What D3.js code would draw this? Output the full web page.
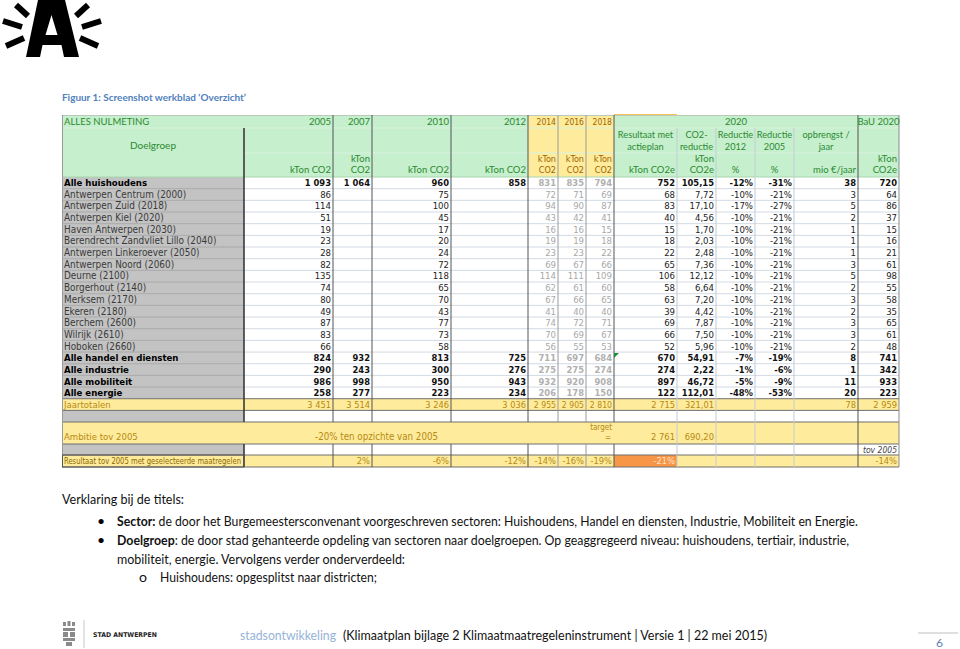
<!DOCTYPE html>
<html><head><meta charset="utf-8">
<script src="https://cdn.jsdelivr.net/npm/d3@7"></script>
<style>body{margin:0;background:#fff}svg{display:block}</style>
</head><body><svg id="c" width="960" height="649"></svg>
<script>
// ---------- DATA ----------
const rowLabels = ["Alle huishoudens","Antwerpen Centrum (2000)","Antwerpen Zuid (2018)","Antwerpen Kiel (2020)","Haven Antwerpen (2030)","Berendrecht Zandvliet Lillo (2040)","Antwerpen Linkeroever (2050)","Antwerpen Noord (2060)","Deurne (2100)","Borgerhout (2140)","Merksem (2170)","Ekeren (2180)","Berchem (2600)","Wilrijk (2610)","Hoboken (2660)","Alle handel en diensten","Alle industrie","Alle mobiliteit","Alle energie","Jaartotalen"];
const rowTypes = ["sum","d","d","d","d","d","d","d","d","d","d","d","d","d","d","sum","sum","sum","sum","total"];
const v2005 = [1093,86,114,51,19,23,28,82,135,74,80,49,87,83,66,824,290,986,258,3451];
const v2007 = [1064,null,null,null,null,null,null,null,null,null,null,null,null,null,null,932,243,998,277,3514];
const v2010 = [960,75,100,45,17,20,24,72,118,65,70,43,77,73,58,813,300,950,223,3246];
const v2012 = [858,null,null,null,null,null,null,null,null,null,null,null,null,null,null,725,276,943,234,3036];
const v2014 = [831,72,94,43,16,19,23,69,114,62,67,41,74,70,56,711,275,932,206,2955];
const v2016 = [835,71,90,42,16,19,23,67,111,61,66,40,72,69,55,697,275,920,178,2905];
const v2018 = [794,69,87,41,15,18,22,66,109,60,65,40,71,67,53,684,274,908,150,2810];
const res2020 = [752,68,83,40,15,18,22,65,106,58,63,39,69,66,52,670,274,897,122,2715];
const co2Reductie = [105.15,7.72,17.10,4.56,1.70,2.03,2.48,7.36,12.12,6.64,7.20,4.42,7.87,7.50,5.96,54.91,2.22,46.72,112.01,321.01];
const reductie2012 = [-12,-10,-17,-10,-10,-10,-10,-10,-10,-10,-10,-10,-10,-10,-10,-7,-1,-5,-48,null];
const reductie2005 = [-31,-21,-27,-21,-21,-21,-21,-21,-21,-21,-21,-21,-21,-21,-21,-19,-6,-9,-53,null];
const opbrengst = [38,3,5,2,1,1,1,3,5,2,3,2,3,3,2,8,1,11,20,78];
const bau2020 = [720,64,86,37,15,16,21,61,98,55,58,35,65,61,48,741,342,933,223,2959];
// Ambitie & resultaat rows
const ambitieText = "-20% ten opzichte van 2005";
const ambitieRes = 2761, ambitieCo2 = 690.20;
const resultaatTov2005 = [null,2,-6,-12,-14,-16,-19,-21]; // 2005..2018, Resultaat 2020
const resultaatBau = -14;
// Header labels
const yearHeaders = ["2005","2007","2010","2012","2014","2016","2018"];
const head2020 = [["Resultaat met","actieplan"],["CO2-","reductie"],["Reductie","2012"],["Reductie","2005"],["opbrengst /","jaar"]];
const unitHeaders = [["kTon CO2"],["kTon","CO2"],["kTon CO2"],["kTon CO2"],["kTon","CO2"],["kTon","CO2"],["kTon","CO2"],["kTon CO2e"],["kTon","CO2e"],["%"],["%"],["mio €/jaar"],["kTon","CO2e"]];

// ---------- SETUP ----------
const svg = d3.select("#c");
svg.append("rect").attr("width",960).attr("height",649).attr("fill","#fff");
const loc = d3.formatLocale({decimal:",",thousands:" ",grouping:[3],currency:["","€"],minus:"-"});
const fInt = loc.format(",d"), fDec = loc.format(",.2f"), fPct = v => loc.format("d")(v)+"%";

const colKeys = ["label","y2005","y2007","y2010","y2012","y2014","y2016","y2018","res","co2","r12","r05","opb","bau"];
const X0 = d3.scaleOrdinal().domain(colKeys).range([62,244,333,372,451,528,558,586,614,677,716,755,794,858]);
const X1 = d3.scaleOrdinal().domain(colKeys).range([244,333,372,451,528,558,586,614,677,716,755,794,858,899]);
const zone = k => k==="label"?"label":(["y2014","y2016","y2018"].includes(k)?"proj":"main");
const colData = {y2005:v2005,y2007:v2007,y2010:v2010,y2012:v2012,y2014:v2014,y2016:v2016,y2018:v2018,res:res2020,co2:co2Reductie,r12:reductie2012,r05:reductie2005,opb:opbrengst,bau:bau2020};
const colFmt = {co2:fDec,r12:fPct,r05:fPct};
const valueKeys = colKeys.slice(1);

const Y = d3.scaleBand().domain(d3.range(rowLabels.length)).range([177,410.4]);
const extraRows = {empty1:[410.4,422],ambitie:[422,444],empty2:[444,455],result:[455,467]};

const GREEN="#c6efce", GREENTXT="#2b8a2f", YEL="#ffeb9c", YELTXT="#9c6500", GRAY="#c3c3c3", GOLD="#b58a12";
const fHead = "Lato, 'Open Sans', sans-serif";
const fNarrow = "'Liberation Sans Narrow','Arial Narrow','DejaVu Sans Condensed',sans-serif";
const fBold = "'DejaVu Sans', Verdana, sans-serif";

const g = svg.append("g");
// ---------- HEADER FILLS ----------
colKeys.forEach(k=>{
  g.append("rect").attr("x",X0(k)).attr("y",115).attr("width",X1(k)-X0(k)).attr("height",62)
   .attr("fill", zone(k)==="proj"?YEL:GREEN);
});
g.append("rect").attr("x",X0("res")).attr("y",114).attr("width",X1("res")-X0("res")).attr("height",2).attr("fill","#f6c15a");

// ---------- BODY FILLS ----------
rowLabels.forEach((lab,i)=>{
  const y0=Y(i), h=Y.bandwidth();
  colKeys.forEach(k=>{
    const fill = rowTypes[i]==="total"?YEL:(k==="label"?GRAY:"#fff");
    g.append("rect").attr("x",X0(k)).attr("y",y0).attr("width",X1(k)-X0(k)).attr("height",h).attr("fill",fill);
  });
});
Object.entries(extraRows).forEach(([name,[a,b]])=>{
  colKeys.forEach(k=>{
    let fill;
    if(name==="ambitie"||name==="result") fill=YEL; else fill = k==="label"?GRAY:"#fff";
    if(name==="result"&&k==="res") fill="#f79646";
    g.append("rect").attr("x",X0(k)).attr("y",a).attr("width",X1(k)-X0(k)).attr("height",b-a).attr("fill",fill);
  });
});

// ---------- GRID LINES ----------
const hl = (x0,x1,y,c,w=1)=>g.append("line").attr("x1",x0).attr("x2",x1).attr("y1",y).attr("y2",y).attr("stroke",c).attr("stroke-width",w);
const vl = (x,y0,y1,c,w=1)=>g.append("line").attr("x1",x).attr("x2",x).attr("y1",y0).attr("y2",y1).attr("stroke",c).attr("stroke-width",w);
hl(62,899,115.5,"#b9c9bb");
hl(62,899,128,"#d9f2dd");
hl(244,899,153,"#d9f2dd");
hl(62,899,177,"#a8d5ae");
d3.range(1,rowLabels.length).forEach(i=>{
  if(i===19) return;
  hl(62,244,Y(i),"#a9a9a9");
  hl(244,899,Y(i),"#d3dae3");
});
[Y(19),410.4,422,444,455,467].forEach(y=>hl(62,899,y,"#6f6f6f"));
// vertical lines (merged Ambitie cell has no inner lines between 2005 and 2018)
const [amA,amB]=extraRows.ambitie;
const vseg=(x,y0,c,w=1,merged=false)=>{
  if(merged){ vl(x,y0,amA,c,w); vl(x,amB,467,c,w); } else vl(x,y0,467,c,w);
};
const darkV=["y2005","y2007","y2010","y2012","y2014","res","bau"];
colKeys.forEach(k=>{
  const x=X0(k);
  const merged = x>=244 && x<=614;
  if(k==="label") { vl(x+0.5,115,467,"#9a9a9a"); return; }
  if(k==="y2005") { vseg(x,128,"#3a3a3a",1.6,true); return; }
  const y0 = ["co2","r12","r05","opb"].includes(k)?128:115;
  if(darkV.includes(k)) vseg(x,y0,"#555",1,merged);
  else if(zone(k)==="proj") vseg(x,y0,"#9a9a9a",1,merged);
  else vseg(x,y0,"#c3cbd6",1,merged);
});
vl(899,115,467,"#8a8a8a");
g.append("path").attr("d",`M${X0("res")},${Y(15)+1}l5,0l-5,5z`).attr("fill","#1e8a3a");

// ---------- HEADER TEXT ----------
const txt = (x,y,s,o={})=>{
  const t=g.append("text").attr("x",x).attr("y",y).text(s)
  .attr("text-anchor",o.a||"end").attr("font-family",o.f||fHead).attr("font-size",o.s||9.5)
  .attr("fill",o.c||"#000").attr("font-weight",o.w||"normal").attr("font-style",o.i||"normal");
  if(o.len) t.attr("textLength",o.len).attr("lengthAdjust","spacingAndGlyphs");
  return t;
};
txt(64,125,"ALLES NULMETING",{a:"start",c:GREENTXT,s:9.5});
txt(153,149,"Doelgroep",{a:"middle",c:GREENTXT,s:10});
yearHeaders.forEach((yr,i)=>{
  const k=valueKeys[i], p=zone(k)==="proj";
  txt(X1(k)-2,125,yr,{c:p?YELTXT:GREENTXT,s:p?8.5:9.5,f:p?fNarrow:fHead});
});
txt((X0("res")+X1("opb"))/2,125,"2020",{a:"middle",c:GREENTXT});
txt((X0("bau")+X1("bau"))/2,125,"BaU 2020",{a:"middle",c:GREENTXT});
head2020.forEach((lines,i)=>{
  const k=["res","co2","r12","r05","opb"][i], cx=(X0(k)+X1(k))/2;
  lines.forEach((l,j)=>txt(cx,138+j*12,l,{a:"middle",c:GREENTXT,s:9.2}));
});
unitHeaders.forEach((lines,i)=>{
  const k=valueKeys[i], p=zone(k)==="proj";
  const pct = lines[0]==="%";
  lines.forEach((l,j)=>{
    const y = lines.length===1?173:161.5+j*11.5;
    const x = pct?(X0(k)+X1(k))/2:X1(k)-2;
    txt(x,y,l,{a:pct?"middle":"end",c:p?YELTXT:GREENTXT,s:p?9:9.5,f:p?fNarrow:fHead});
  });
});

// ---------- BODY TEXT ----------
rowLabels.forEach((lab,i)=>{
  const t=rowTypes[i], yb=Y(i)+Y.bandwidth()/2+3.3;
  if(t==="sum") txt(64,yb,lab,{a:"start",f:fBold,w:"bold",s:8.6});
  else if(t==="total") txt(64,yb,lab,{a:"start",f:fNarrow,s:9.5,c:GOLD});
  else txt(64,yb,lab,{a:"start",f:fNarrow,s:9.9,c:"#3a3a3a"});
  valueKeys.forEach(k=>{
    const v=colData[k][i]; if(v==null) return;
    const s=(colFmt[k]||fInt)(v);
    const p=zone(k)==="proj";
    let o={f:fNarrow,s:9.5,c:p?"#a8a8a8":"#222"};
    if(t==="sum") o={f:fBold,w:"bold",s:8.4,c:p?"#b0b0b0":"#111"};
    if(t==="total") o={f:fNarrow,s:p?8.6:9.2,c:GOLD};
    txt(X1(k)-2,yb,s,o);
  });
});
txt(64,amB-4,"Ambitie tov 2005",{a:"start",f:fNarrow,s:9.5,c:GOLD});
txt(315,amB-4,ambitieText,{a:"start",f:fNarrow,s:9.7,c:GOLD});
txt(X1("y2018")-2,amA+8,"target",{f:fNarrow,s:8,c:GOLD});
txt(X1("y2018")-3,amB-4,"=",{f:fNarrow,s:8,c:GOLD});
txt(X1("res")-2,amB-4,fInt(ambitieRes),{f:fNarrow,s:9.3,c:GOLD});
txt(X1("co2")-2,amB-4,fDec(ambitieCo2),{f:fNarrow,s:9.3,c:GOLD});
txt(X1("bau")-2,extraRows.empty2[1]-2.5,"tov 2005",{f:fNarrow,s:8.5,c:"#444",i:"italic"});
const [ra,rb]=extraRows.result;
g.append("rect").attr("x",62.5).attr("y",ra).attr("width",181).attr("height",rb-ra).attr("fill","none").attr("stroke","#555");
txt(64,rb-3,"Resultaat tov 2005 met geselecteerde maatregelen",{a:"start",f:fNarrow,s:9,c:"#8a6a00",len:177});
resultaatTov2005.forEach((v,i)=>{
  if(v==null) return;
  const k=valueKeys[i];
  txt(X1(k)-2,rb-3,fPct(v),{f:fNarrow,s:9.3,c:k==="res"?"#fde3c8":GOLD});
});
txt(X1("bau")-2,rb-3,fPct(resultaatBau),{f:fNarrow,s:9.3,c:GOLD});

// ---------- PAGE DECOR ----------
const logo=svg.append("g");
logo.append("path").attr("d","M26,57 L38,0 L65,0 L79,57 L64,57 L61.5,45 L42.5,45 L40,57 Z M45.5,35 L51.5,15 L57.5,35 Z")
  .attr("fill","#000").attr("fill-rule","evenodd");
[[16,5,28,16],[3,21,22,27],[6,46,24,38],[88,5,76,16],[101,21,82,27],[98,46,80,38]].forEach(d=>
  logo.append("line").attr("x1",d[0]).attr("y1",d[1]).attr("x2",d[2]).attr("y2",d[3]).attr("stroke","#000").attr("stroke-width",6));
svg.append("text").attr("x",62).attr("y",101).text("Figuur 1: Screenshot werkblad ‘Overzicht’")
  .attr("font-family",fHead).attr("font-size",10).attr("font-weight","bold").attr("fill","#4f81bd")
  .attr("textLength",184).attr("lengthAdjust","spacingAndGlyphs");
const body=(x,y,parts,len)=>{
  const t=svg.append("text").attr("x",x).attr("y",y).attr("font-family",fHead).attr("font-size",13).attr("fill","#111")
    .attr("textLength",len).attr("lengthAdjust","spacingAndGlyphs");
  parts.forEach(p=>t.append("tspan").text(p[0]).attr("font-weight",p[1]?"bold":"normal"));
};
body(62,504,[["Verklaring bij de titels:"]],122);
svg.append("text").attr("x",97).attr("y",526).text("•").attr("font-size",14).attr("font-family",fHead);
svg.append("text").attr("x",97).attr("y",545).text("•").attr("font-size",14).attr("font-family",fHead);
body(117,526,[["Sector:",1],[" de door het Burgemeestersconvenant voorgeschreven sectoren: Huishoudens, Handel en diensten, Industrie, Mobiliteit en Energie."]],741);
body(117,545,[["Doelgroep",1],[": de door stad gehanteerde opdeling van sectoren naar doelgroepen. Op geaggregeerd niveau: huishoudens, tertiair, industrie,"]],732);
body(117,564,[["mobiliteit, energie. Vervolgens verder onderverdeeld:"]],288);
body(139,582,[["o"]],8);
body(160,582,[["Huishoudens: opgesplitst naar districten;"]],217);
const crest=svg.append("g").attr("fill","#8a8a8a");
[[63,622,3,4],[67.5,621,3,5],[72,622,3,4],[63,628,12,3],[63,632,5,5],[70,632,5,5],[63,638,12,3],[66,642,6,4]].forEach(r=>
  crest.append("rect").attr("x",r[0]).attr("y",r[1]).attr("width",r[2]).attr("height",r[3]));
vl(84,620,648,"#c8c8c8");
svg.append("text").attr("x",93).attr("y",637).text("STAD ANTWERPEN").attr("font-family",fBold).attr("font-weight","bold")
  .attr("font-size",6.5).attr("fill","#222").attr("textLength",64).attr("lengthAdjust","spacingAndGlyphs");
svg.append("text").attr("x",240).attr("y",640).text("stadsontwikkeling").attr("font-family",fHead).attr("font-size",13)
  .attr("fill","#95b3d7").attr("textLength",96).attr("lengthAdjust","spacingAndGlyphs");
svg.append("text").attr("x",343).attr("y",640).text("(Klimaatplan bijlage 2 Klimaatmaatregeleninstrument | Versie 1 | 22 mei 2015)")
  .attr("font-family",fHead).attr("font-size",13).attr("fill","#111").attr("textLength",424).attr("lengthAdjust","spacingAndGlyphs");
hl(918,958,633,"#bfbfbf");
svg.append("text").attr("x",936).attr("y",647).text("6").attr("font-family",fHead).attr("font-size",12).attr("fill","#5b7fb0");
</script></body></html>
